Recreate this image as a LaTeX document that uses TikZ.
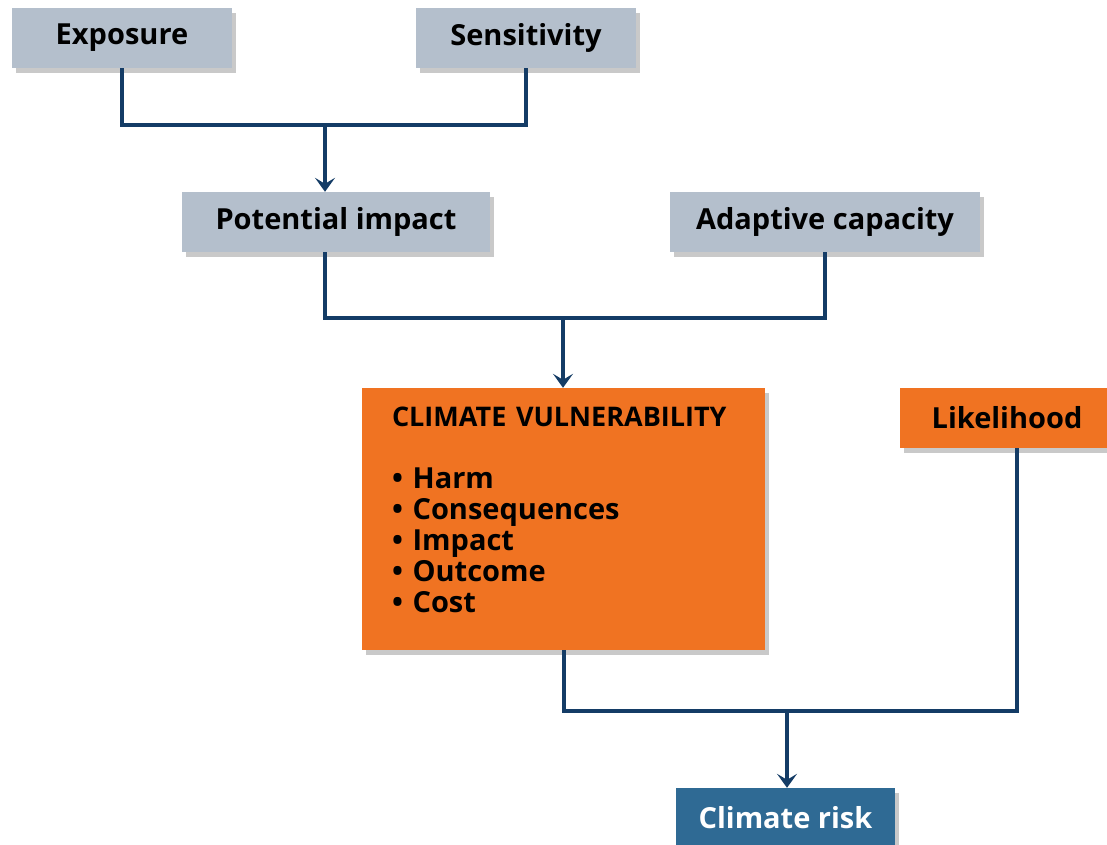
\documentclass[tikz,border=0pt]{standalone}
\usepackage{fontspec}
\setmainfont{Open Sans}
\usetikzlibrary{shadows,arrows.meta}

\definecolor{factorgray}{HTML}{B4BFCC}
\definecolor{vulnorange}{HTML}{F07322}
\definecolor{riskblue}{HTML}{2F6A94}
\definecolor{linkblue}{HTML}{143C66}

\begin{document}
\begin{tikzpicture}[x=1pt,y=-1pt]
	\useasboundingbox (0,0) rectangle (1107,844);
	\tikzstyle{box}=[rectangle, inner sep=0pt, font=\fontsize{29}{31}\selectfont\bfseries, drop shadow={shadow xshift=4pt, shadow yshift=-5pt, opacity=0.3, fill=black!70}]
	\tikzstyle{factor}=[box, fill=factorgray, minimum height=60pt]
	\tikzstyle{hazard}=[box, fill=vulnorange]
	\tikzstyle{result}=[box, fill=riskblue, text=white, minimum height=60pt]
	\tikzstyle{link}=[draw=linkblue, line width=4pt]
	\node[factor, minimum width=220pt] 	(E) at (122,38) {Exposure};
	\node[factor, minimum width=220pt] 	(S) at (526,38) {Sensitivity};
	\node[factor, minimum width=308pt] 	(P) at (336,222) {Potential impact};
	\node[factor, minimum width=310pt] 	(A) at (825,222) {Adaptive capacity};
	\node[hazard, minimum width=403pt, minimum height=262pt, text width=343pt, align=left] (V) at (563.5,519)
		{{\fontsize{27}{31}\selectfont CLIMATE VULNERABILITY}\\[31pt]
		\textbullet\ Harm\\
		\textbullet\ Consequences\\
		\textbullet\ Impact\\
		\textbullet\ Outcome\\
		\textbullet\ Cost\rule[-18pt]{0pt}{18pt}};
	\node[hazard, minimum width=214pt, minimum height=60pt] (L) at (1007,418) {Likelihood};
	\node[result, minimum width=219pt] (R) at (785.5,818) {Climate risk};
	
	\coordinate (J1) at (325,125);
	\coordinate (J2) at (563,318);
	\coordinate (J3) at (787,711);
	\draw[link] (E) |- (J1) -| (S);
	\draw[link] (P.south -| J1) |- (J2) -| (A);
	\draw[link] (V) |- (J3) -| ([xshift=10pt]L.south);
	\begin{scope}[link, -{Stealth[length=14pt, width=20pt, inset=6pt]}]
		\draw	(J1) -- (J1 |- P.north);
		\draw	(J2) -- (J2 |- V.north);
		\draw	(J3) -- (J3 |- R.north);
	\end{scope}
\end{tikzpicture}
\end{document}
